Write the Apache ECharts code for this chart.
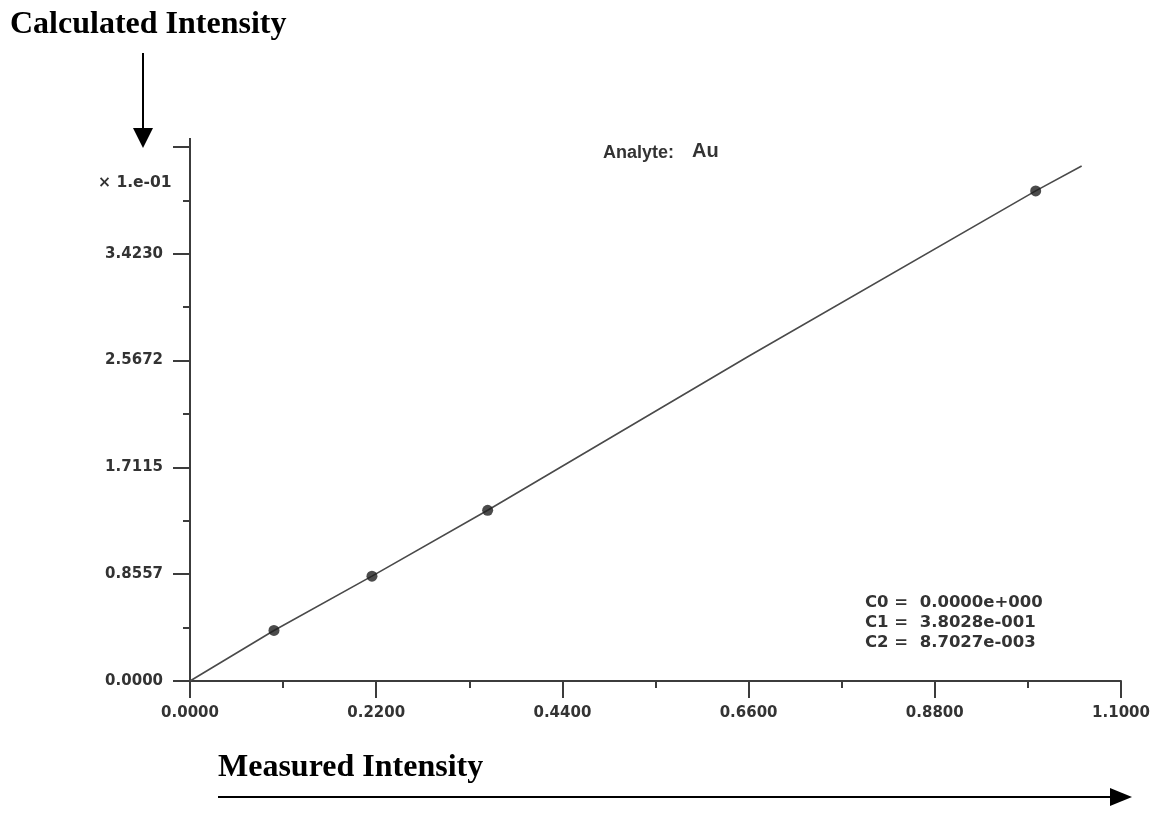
<!DOCTYPE html>
<html>
<head>
<meta charset="utf-8">
<script src="https://cdn.jsdelivr.net/npm/echarts@6/dist/echarts.min.js"></script>
<style>html,body{margin:0;padding:0;background:#fff;}#c{width:1157px;height:833px;}</style>
</head>
<body>
<div id="c"></div>
<script>
// Measured calibration points (x = measured intensity, y = calculated intensity ×1e-01)
const pointX = [0.0992, 0.215, 0.3517, 0.9992];
const pointY = [0.405, 0.840, 1.368, 3.927];
// Calibration curve
const curveX = [0, 0.0992, 0.215, 0.3517, 0.66, 0.9992, 1.0535];
const curveY = [0, 0.405, 0.840, 1.368, 2.602, 3.927, 4.127];
// Axis tick labels
const yTickLabels = ['0.0000', '0.8557', '1.7115', '2.5672', '3.4230', ''];
const yInterval = 0.85574;
const xInterval = 0.22;
const xMax = 1.1;
const coefLines = ['C0 =  0.0000e+000', 'C1 =  3.8028e-001', 'C2 =  8.7027e-003'];

const chart = echarts.init(document.getElementById('c'));
const axisColor = '#3c3c3c';
const labelFont = { fontFamily: 'DejaVu Sans', fontWeight: 'bold', fontSize: 15, color: '#333' };

chart.setOption({
  animation: false,
  backgroundColor: '#fff',
  grid: { left: 190, top: 147, right: 36, bottom: 152, containLabel: false },
  xAxis: {
    type: 'value', min: 0, max: xMax, interval: xInterval,
    axisLine: { show: true, lineStyle: { color: axisColor, width: 2 } },
    axisTick: { show: true, length: 17, lineStyle: { color: axisColor, width: 2 } },
    minorTick: { show: true, splitNumber: 2, length: 7, lineStyle: { color: axisColor, width: 2 } },
    splitLine: { show: false },
    axisLabel: Object.assign({ margin: 25, formatter: v => v.toFixed(4) }, labelFont)
  },
  yAxis: {
    type: 'value', min: 0, max: yInterval * 5, interval: yInterval,
    axisLine: { show: true, lineStyle: { color: axisColor, width: 2 } },
    axisTick: { show: true, length: 17, lineStyle: { color: axisColor, width: 2 } },
    minorTick: { show: true, splitNumber: 2, length: 7, lineStyle: { color: axisColor, width: 2 } },
    splitLine: { show: false },
    axisLabel: Object.assign({ margin: 27, formatter: v => yTickLabels[Math.round(v / yInterval)] || '' }, labelFont)
  },
  series: [
    {
      type: 'line', data: curveX.map((x, i) => [x, curveY[i]]),
      showSymbol: false, smooth: false,
      lineStyle: { color: '#4a4a4a', width: 1.6 }, z: 2
    },
    {
      type: 'scatter', data: pointX.map((x, i) => [x, pointY[i]]),
      symbolSize: 11, itemStyle: { color: '#1e1e1e' }, z: 3
    }
  ],
  graphic: [
    { type: 'text', left: 10, top: 9, style: { text: 'Calculated Intensity', font: 'bold 32px "Liberation Serif"', fill: '#000' } },
    { type: 'line', shape: { x1: 143, y1: 53, x2: 143, y2: 132 }, style: { stroke: '#000', lineWidth: 2 } },
    { type: 'polygon', shape: { points: [[133, 128], [153, 128], [143, 148]] }, style: { fill: '#000' } },
    { type: 'text', left: 218, top: 752, style: { text: 'Measured Intensity', font: 'bold 32px "Liberation Serif"', fill: '#000' } },
    { type: 'line', shape: { x1: 218, y1: 797, x2: 1114, y2: 797 }, style: { stroke: '#000', lineWidth: 2 } },
    { type: 'polygon', shape: { points: [[1110, 788], [1110, 806], [1132, 797]] }, style: { fill: '#000' } },
    { type: 'line', shape: { x1: 190, y1: 138, x2: 190, y2: 148 }, style: { stroke: axisColor, lineWidth: 2 } },
    { type: 'text', left: 98, top: 175, style: { text: '× 1.e-01', font: 'bold 15.5px "DejaVu Sans"', fill: '#333' } },
    { type: 'text', left: 603, top: 144, style: { text: 'Analyte:', font: 'bold 18px "Liberation Sans"', fill: '#333' } },
    { type: 'text', left: 692, top: 141, style: { text: 'Au', font: 'bold 20px "Liberation Sans"', fill: '#333' } },
    { type: 'text', left: 865, top: 593, style: { text: coefLines.join('\n'), font: 'bold 16.5px "DejaVu Sans"', lineHeight: 20, fill: '#333' } }
  ]
});
</script>
</body>
</html>
